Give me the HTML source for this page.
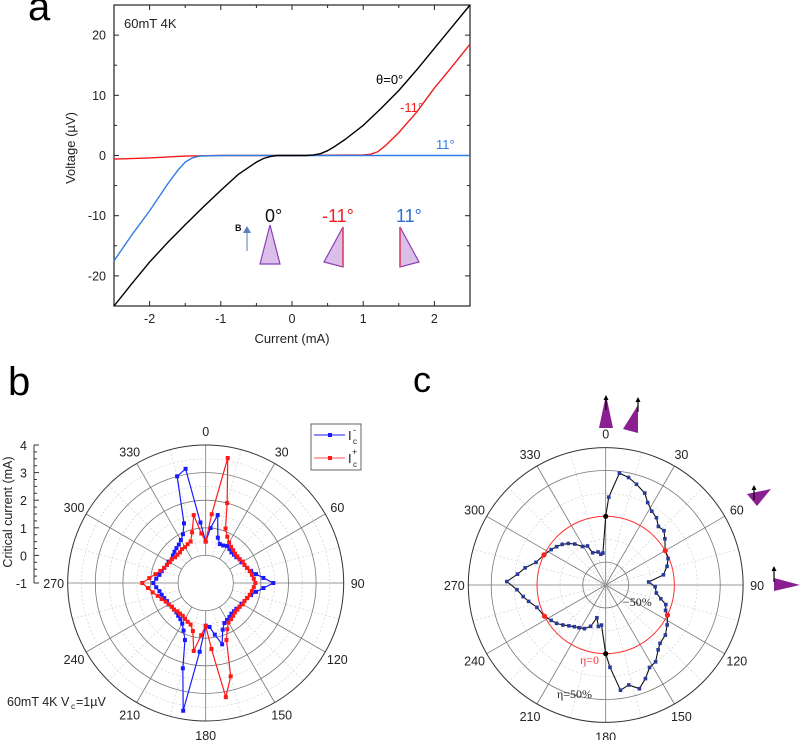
<!DOCTYPE html>
<html><head><meta charset="utf-8">
<style>
body{margin:0;background:#fff;}
svg{display:block;font-family:"Liberation Sans",sans-serif;}
</style></head>
<body>
<svg id="fig" width="800" height="740" viewBox="0 0 800 740">
<text x="28" y="20" font-size="40">a</text>
<text x="8" y="395" font-size="40">b</text>
<text x="413" y="392" font-size="36">c</text>
<g id="pa"></g>
<g id="pb"></g>
<g id="pc"></g>
</svg>
<script>
// ---------- Panel a data ----------
const blackI=[-2.5,-2.25,-2,-1.75,-1.5,-1.25,-1,-0.75,-0.5,-0.4,-0.3,-0.2,0,0.2,0.3,0.4,0.5,0.6,0.75,1,1.25,1.5,1.75,2,2.25,2.5];
const blackV=[-25,-21.3,-17.7,-14.5,-11.5,-8.6,-5.8,-3.1,-1.1,-0.5,-0.15,0,0,0,0.1,0.3,0.8,1.5,2.7,5,7.8,10.8,14.2,17.8,21.4,25];
const redI=[-2.5,-2,-1.5,-1,0,1,1.1,1.2,1.3,1.5,1.75,2,2.25,2.5];
const redV=[-0.6,-0.4,-0.1,0,0,0.1,0.2,0.6,1.5,3.8,7.2,11.2,14.8,18.5];
const blueI=[-2.5,-2.25,-2,-1.75,-1.6,-1.5,-1.4,-1.3,-1,0,1,2,2.5];
const blueV=[-17.5,-13.2,-9.2,-4.8,-2.4,-1.1,-0.4,-0.1,0,0,0,0,0];
const xTicksA=[-2,-1,0,1,2];
const yTicksA=[-20,-10,0,10,20];
// ---------- Panel b data ----------
const angB=[0,5,10,15,20,25,30,35,40,45,50,55,60,65,70,75,80,85,90,95,100,105,110,115,120,125,130,135,140,145,150,155,160,165,170,175,180,185,190,195,200,205,210,215,220,225,230,235,240,245,250,255,260,265,270,275,280,285,290,295,300,305,310,315,320,325,330,335,340,345,350,355];
const icMinus=[0.5,1.0,1.5,0.7,0.5,0.5,0.55,0.5,0.45,0.45,0.45,0.5,0.5,0.55,0.6,0.7,0.85,1.1,1.45,1.1,0.85,0.7,0.6,0.55,0.5,0.5,0.45,0.45,0.45,0.5,0.55,0.6,0.8,1.3,0.9,0.6,0.55,1.5,3.7,2.2,1.2,0.9,0.7,0.6,0.55,0.5,0.5,0.5,0.55,0.55,0.6,0.65,0.7,0.8,0.9,0.8,0.7,0.65,0.6,0.55,0.55,0.5,0.55,0.6,0.65,0.7,0.8,0.95,1.3,3.0,3.2,1.2];
const icPlus=[0.5,1.5,3.6,2.0,1.1,0.85,0.7,0.6,0.55,0.5,0.5,0.5,0.55,0.55,0.6,0.65,0.7,0.75,0.8,0.75,0.7,0.65,0.6,0.55,0.55,0.5,0.5,0.5,0.55,0.6,0.65,0.85,1.2,2.5,3.2,1.4,0.55,0.9,1.5,0.8,0.6,0.55,0.5,0.45,0.45,0.45,0.5,0.5,0.55,0.6,0.7,0.8,0.95,1.1,1.3,1.05,0.85,0.7,0.6,0.55,0.5,0.5,0.45,0.45,0.45,0.5,0.5,0.55,0.6,0.9,1.5,0.8];
const rTicksB=[4,3,2,1,0,-1];
const angLabels=[0,30,60,90,120,150,180,210,240,270,300,330];
// ---------- Panel c data ----------
const angC=[0,2,7,12,17,23,27,32,37,42,47,52,60,67,73,80,86,92,99,104,108,113,116,123,130,137,141,147,152,157,162,167,172,177,180,186,190,195,200,206,212,217,222,227,232,237,243,252,258,262,267,272,277,282,288,296,303,308,313,318,323,329,335,338,347,351,355];
const eta=[0,21,48,45,40,34,26,20,17,11,12,7,0,-1,-5,-11,-28,-21,-19,-13,-6,-4,0,5,10,12,16,25,27,36,44,37,41,15,0,-31,-29,-38,-27,-22,-20,-18,-15,-11,-7,-4,0,4,11,16,22,33,22,15,5,0,-4,-7,-10,-14,-19,-26,-28,-37,-38,-41,-40];

const NS="http://www.w3.org/2000/svg";
function mk(parent,tag,attrs,name,txt){
  const e=document.createElementNS(NS,tag);
  for(const k in attrs)e.setAttribute(k,attrs[k]);
  
  
  if(txt!==undefined)e.textContent=txt;
  parent.appendChild(e);return e;
}
const rad=d=>d*Math.PI/180;

// ===== Panel a =====
(function(){
  const g=document.getElementById('pa');
  const L=114,R=470,T=5,B=306;
  const sx=i=>L+(i+2.5)/5*(R-L);
  const sy=v=>B-(v+25)/50*(B-T);
  mk(g,'rect',{x:L,y:T,width:R-L,height:B-T,fill:'none',stroke:'#222','stroke-width':1.2},'plot-frame');
  for(let i=-2.5;i<=2.5001;i+=0.5){
    const x=sx(i),maj=Math.abs(i-Math.round(i))<1e-6;const len=maj?5:3;
    mk(g,'line',{x1:x,y1:B,x2:x,y2:B-len,stroke:'#222'},'x-tick');
    mk(g,'line',{x1:x,y1:T,x2:x,y2:T+len,stroke:'#222'},'x-tick-top');
  }
  for(let v=-25;v<=25;v+=5){
    const y=sy(v),maj=v%10===0;const len=maj?5:3;
    mk(g,'line',{x1:L,y1:y,x2:L+len,y2:y,stroke:'#222'},'y-tick');
    mk(g,'line',{x1:R,y1:y,x2:R-len,y2:y,stroke:'#222'},'y-tick-right');
  }
  xTicksA.forEach(t=>mk(g,'text',{x:sx(t),y:B+17,'font-size':12.5,'text-anchor':'middle',fill:'#222'},'x-tick-label',t));
  yTicksA.forEach(t=>mk(g,'text',{x:L-8,y:sy(t)+4.5,'font-size':12.5,'text-anchor':'end',fill:'#222'},'y-tick-label',t));
  mk(g,'text',{x:292,y:343,'font-size':13,'text-anchor':'middle',fill:'#222'},'x-axis-title','Current (mA)');
  mk(g,'text',{x:75,y:148,'font-size':13,'text-anchor':'middle',fill:'#222',transform:'rotate(-90 75 148)'},'y-axis-title','Voltage (µV)');
  mk(g,'text',{x:124,y:28,'font-size':13,fill:'#222'},'condition-label','60mT 4K');
  const line=(I,V,c,n)=>mk(g,'polyline',{points:I.map((i,k)=>sx(i)+','+sy(V[k])).join(' '),fill:'none',stroke:c,'stroke-width':1.4,'stroke-linejoin':'round'},n);
  line(redI,redV,'#f21c1c','series-minus11deg');
  line(blueI,blueV,'#2f7de1','series-11deg');
  line(blackI,blackV,'#000','series-0deg');
  mk(g,'text',{x:376,y:84,'font-size':13,fill:'#000'},'label-0deg','θ=0°');
  mk(g,'text',{x:400,y:112,'font-size':13,fill:'#f21c1c'},'label-minus11deg','-11°');
  mk(g,'text',{x:436,y:149,'font-size':13,fill:'#2f7de1'},'label-11deg','11°');
  // inset
  mk(g,'text',{x:265,y:222,'font-size':18,fill:'#111'},'inset-0deg','0°');
  mk(g,'text',{x:322,y:222,'font-size':18,fill:'#f21c1c'},'inset-minus11deg','-11°');
  mk(g,'text',{x:396,y:222,'font-size':18,fill:'#2f6fd0'},'inset-11deg','11°');
  mk(g,'text',{x:235,y:231,'font-size':9,'font-weight':'bold',fill:'#111'},'b-field-label','B');
  mk(g,'line',{x1:247,y1:251,x2:247,y2:230,stroke:'#8ea6cf','stroke-width':1.5},'b-field-arrow');
  mk(g,'polygon',{points:'243,233 247,226 251,233',fill:'#5a7ec0'},'b-field-arrowhead');
  mk(g,'polygon',{points:'270,225 260,264 280,264',fill:'#dcbfe8',stroke:'#8a3fb8','stroke-width':1.2},'inset-triangle-0');
  mk(g,'polygon',{points:'343,227 324,262 343,267',fill:'#dcbfe8',stroke:'#8a3fb8','stroke-width':1.2},'inset-triangle-minus11');
  mk(g,'line',{x1:343,y1:227,x2:343,y2:267,stroke:'#e0405a','stroke-width':1.5},'inset-edge-minus11');
  mk(g,'polygon',{points:'400,227 419,262 400,267',fill:'#dcbfe8',stroke:'#8a3fb8','stroke-width':1.2},'inset-triangle-11');
  mk(g,'line',{x1:400,y1:227,x2:400,y2:267,stroke:'#e0405a','stroke-width':1.5},'inset-edge-11');
})();

// ===== polar helper =====
function polarGrid(g,cx,cy,R,opts){
  for(let a=0;a<360;a+=15){
    const major=a%30===0;
    const r0=opts.inner||0;
    mk(g,'line',{x1:cx+r0*Math.sin(rad(a)),y1:cy-r0*Math.cos(rad(a)),x2:cx+R*Math.sin(rad(a)),y2:cy-R*Math.cos(rad(a)),stroke:major?'#777':'#ccc','stroke-width':major?0.8:0.6,'stroke-dasharray':major?'':'2,2'},major?'angular-gridline':'angular-minor-gridline');
  }
  opts.circles.forEach(c=>mk(g,'circle',{cx:cx,cy:cy,r:c.r,fill:'none',stroke:c.dot?'#ccc':'#777','stroke-width':c.dot?0.6:0.8,'stroke-dasharray':c.dot?'2,2':''},'radial-gridline'));
  mk(g,'circle',{cx:cx,cy:cy,r:R,fill:'none',stroke:'#333','stroke-width':1},'outer-circle');
  angLabels.forEach(a=>{
    const lr=R+14;
    mk(g,'text',{x:cx+lr*Math.sin(rad(a)),y:cy-lr*Math.cos(rad(a))+5,'font-size':12.5,'text-anchor':'middle',fill:'#222'},'angle-label',a);
  });
}

// ===== Panel b =====
(function(){
  const g=document.getElementById('pb');
  const cx=205.7,cy=583,k=27.6;
  const rv=v=>(v+1)*k;
  const circles=[];
  [0,1,2,3].forEach(v=>circles.push({r:rv(v)}));
  [0.5,1.5,2.5,3.5].forEach(v=>circles.push({r:rv(v),dot:true}));
  polarGrid(g,cx,cy,rv(4),{circles:circles,inner:rv(0)});
  mk(g,'line',{x1:34,y1:cy-rv(4),x2:34,y2:cy,stroke:'#333'},'radial-axis-line');
  for(let v=-1;v<=4.0001;v+=0.25){
    const maj=Math.abs(v-Math.round(v))<1e-6;
    mk(g,'line',{x1:34,y1:cy-rv(v),x2:34+(maj?5:3),y2:cy-rv(v),stroke:'#333'},'radial-tick');
  }
  rTicksB.forEach(t=>mk(g,'text',{x:27,y:cy-rv(t)+5,'font-size':12.5,'text-anchor':'end',fill:'#222'},'radial-tick-label',t));
  mk(g,'text',{x:12,y:512,'font-size':12.5,'text-anchor':'middle',fill:'#222',transform:'rotate(-90 12 512)'},'radial-axis-title','Critical current (mA)');
  const pt=(a,v)=>[cx+rv(v)*Math.sin(rad(a)),cy-rv(v)*Math.cos(rad(a))];
  function series(vals,col,name){
    const pts=angB.map((a,i)=>pt(a,vals[i]));pts.push(pts[0]);
    mk(g,'polyline',{points:pts.map(p=>p.join(',')).join(' '),fill:'none',stroke:col,'stroke-width':1.2},name+'-line');
    angB.forEach((a,i)=>{const p=pt(a,vals[i]);
      mk(g,'rect',{x:p[0]-2,y:p[1]-2,width:4,height:4,fill:col},name+'-point');});
  }
  series(icMinus,'#1a1aff','ic-minus');
  series(icPlus,'#ff1a1a','ic-plus');
  mk(g,'rect',{x:311,y:424,width:50,height:46,fill:'#fff',stroke:'#666'},'legend-box');
  mk(g,'line',{x1:314,y1:435,x2:345,y2:435,stroke:'#1a1aff'},'legend-ic-minus-line');
  mk(g,'rect',{x:328,y:433,width:4,height:4,fill:'#1a1aff'},'legend-ic-minus-marker');
  mk(g,'text',{x:348,y:440,'font-size':13,fill:'#222'},'legend-ic-minus-label','I');
  mk(g,'text',{x:353,y:433,'font-size':9,fill:'#222'},'legend-sup','-');
  mk(g,'text',{x:353,y:444,'font-size':8,fill:'#222'},'legend-sub','c');
  mk(g,'line',{x1:314,y1:458,x2:345,y2:458,stroke:'#ff5555'},'legend-ic-plus-line');
  mk(g,'rect',{x:328,y:456,width:4,height:4,fill:'#ff1a1a'},'legend-ic-plus-marker');
  mk(g,'text',{x:348,y:463,'font-size':13,fill:'#222'},'legend-ic-plus-label','I');
  mk(g,'text',{x:352,y:455,'font-size':9,fill:'#222'},'legend-sup','+');
  mk(g,'text',{x:353,y:467,'font-size':8,fill:'#222'},'legend-sub','c');
  mk(g,'text',{x:7,y:706,'font-size':12.5,fill:'#222'},'condition-label','60mT 4K V');
  mk(g,'text',{x:71,y:709,'font-size':8.5,fill:'#222'},'condition-sub','c');
  mk(g,'text',{x:76,y:706,'font-size':12.5,fill:'#222'},'condition-label-2','=1µV');
})();

// ===== Panel c =====
(function(){
  const g=document.getElementById('pc');
  const cx=605.7,cy=585,k=0.916;
  const rv=e=>(e+75)*k;
  polarGrid(g,cx,cy,rv(75),{circles:[{r:rv(-50)},{r:rv(50)},{r:rv(-25),dot:true},{r:rv(25),dot:true},{r:rv(0),dot:true}]});
  mk(g,'circle',{cx:cx,cy:cy,r:rv(0),fill:'none',stroke:'#ff3030','stroke-width':1},'eta-zero-circle');
  const pt=(a,e)=>[cx+rv(e)*Math.sin(rad(a)),cy-rv(e)*Math.cos(rad(a))];
  const pts=angC.map((a,i)=>pt(a,eta[i]));pts.push(pts[0]);
  mk(g,'polyline',{points:pts.map(p=>p.join(',')).join(' '),fill:'none',stroke:'#111','stroke-width':1.1},'eta-line');
  angC.forEach((a,i)=>{const p=pt(a,eta[i]);
    const isZero=eta[i]===0;
    const col=isZero?((a===0||a===180)?'#000':'#ff2020'):'#2a3a9a';
    if(isZero) mk(g,'circle',{cx:p[0],cy:p[1],r:2.6,fill:col},'eta-zero-point');
    else mk(g,'rect',{x:p[0]-1.8,y:p[1]-1.8,width:3.6,height:3.6,fill:col},'eta-point');
  });
  mk(g,'text',{x:623,y:606,'font-size':12,'font-family':'Liberation Serif,serif',fill:'#222'},'minus50-label','−50%');
  mk(g,'text',{x:580,y:664,'font-size':12,'font-family':'Liberation Serif,serif',fill:'#ff3030'},'eta0-label','η=0');
  mk(g,'text',{x:557,y:698,'font-size':12,'font-family':'Liberation Serif,serif',fill:'#222'},'eta50-label','η=50%');
  const P='#8a1f92';
  mk(g,'polygon',{points:'606,395 599,428 613,428',fill:P},'triangle-0');
  mk(g,'polygon',{points:'638,405 623,429 638,433',fill:P},'triangle-15');
  mk(g,'polygon',{points:'747,494 771,489 757,506',fill:P},'triangle-60');
  mk(g,'polygon',{points:'774,578 800,585 774,591',fill:P},'triangle-90');
  [[606,410,395],[638,412,397],[754,500,485],[774,582,566]].forEach(a=>{
    mk(g,'line',{x1:a[0],y1:a[1],x2:a[0],y2:a[2]+4,stroke:'#000','stroke-width':1.2},'field-arrow');
    mk(g,'polygon',{points:(a[0]-2.5)+','+(a[2]+5)+' '+a[0]+','+a[2]+' '+(a[0]+2.5)+','+(a[2]+5),fill:'#000'},'field-arrowhead');
  });
})();
</script>
</body></html>
